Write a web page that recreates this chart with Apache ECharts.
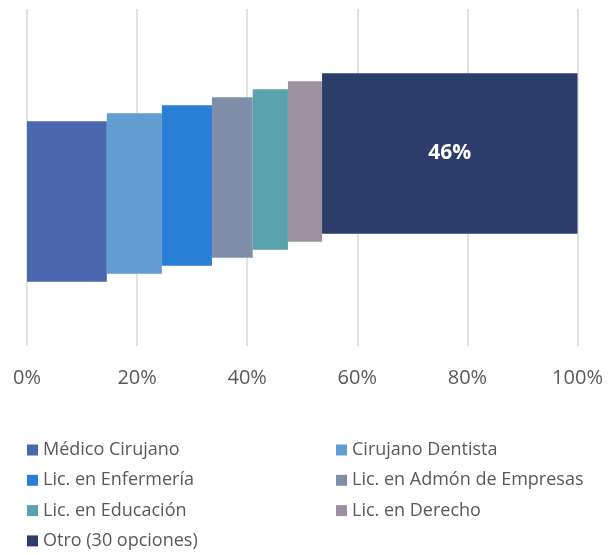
<!DOCTYPE html>
<html>
<head>
<meta charset="utf-8">
<script src="https://cdn.jsdelivr.net/npm/echarts@6/dist/echarts.min.js"></script>
<style>
  html, body { margin: 0; padding: 0; background: #fff; }
  #chart { width: 613px; height: 555px; }
</style>
</head>
<body>
<div id="chart"></div>
<script>
// carreras y su porcentaje (%)
var categories = [
  "Médico Cirujano",
  "Cirujano Dentista",
  "Lic. en Enfermería",
  "Lic. en Admón de Empresas",
  "Lic. en Educación",
  "Lic. en Derecho",
  "Otro (30 opciones)"
];
var shares = [14.5, 10.0, 9.1, 7.4, 6.4, 6.2, 46.4];
var colors = ["#4a66ac", "#629dd1", "#297fd5", "#7f8fa9", "#5aa2ae", "#9d90a0", "#2c3d6b"];
var xTicks = [0, 20, 40, 60, 80, 100];

var FONT = "'Open Sans', sans-serif";
var TEXT = "#595959";
var stepBase = 18;   // each bar sits one step higher than the previous one
var barSpan = 20;    // bar height in y units

function renderItem(params, api) {
  var p0 = api.coord([api.value(0), api.value(2)]);
  var p1 = api.coord([api.value(1), api.value(2)]);
  var h = api.size([0, barSpan])[1];
  var share = api.value(1) - api.value(0);
  var el = {
    type: "rect",
    shape: { x: p0[0], y: p0[1] - h / 2, width: p1[0] - p0[0], height: h },
    style: { fill: api.visual("color") }
  };
  if (share > 40) {
    el.textContent = {
      style: {
        text: Math.round(share) + "%",
        fill: "#fff",
        font: "bold 21px " + FONT
      }
    };
    el.textConfig = { position: "inside" };
  }
  return el;
}

var series = [];
var acc = 0;
for (var i = 0; i < categories.length; i++) {
  series.push({
    name: categories[i],
    type: "custom",
    renderItem: renderItem,
    itemStyle: { color: colors[i] },
    encode: { x: [0, 1], y: 2 },
    data: [[acc, acc + shares[i], stepBase + i]]
  });
  acc += shares[i];
}

var legendStyle = {
  orient: "vertical",
  top: 436,
  height: 116,
  itemWidth: 11,
  itemHeight: 11,
  itemGap: 12.3,
  icon: "rect",
  textStyle: { color: TEXT, fontSize: 18, fontFamily: FONT, lineHeight: 18 }
};

var chart = echarts.init(document.getElementById("chart"));
chart.setOption({
  animation: false,
  grid: { left: 27, right: 35.5, top: 9, bottom: 209, containLabel: false },
  xAxis: {
    type: "value",
    min: xTicks[0],
    max: xTicks[xTicks.length - 1],
    interval: 20,
    axisLine: { show: false },
    axisTick: { show: false },
    axisLabel: {
      formatter: "{value}%",
      color: TEXT,
      fontSize: 20,
      fontFamily: FONT,
      margin: 22
    },
    splitLine: { lineStyle: { color: "#d9d9d9", width: 1.5 } }
  },
  yAxis: {
    type: "value",
    min: 0,
    max: 42,
    show: false
  },
  legend: [
    Object.assign({ left: 22, data: [categories[0], categories[2], categories[4], categories[6]] }, legendStyle),
    Object.assign({ left: 331, data: [categories[1], categories[3], categories[5]] }, legendStyle)
  ],
  series: series
});
</script>
</body>
</html>
